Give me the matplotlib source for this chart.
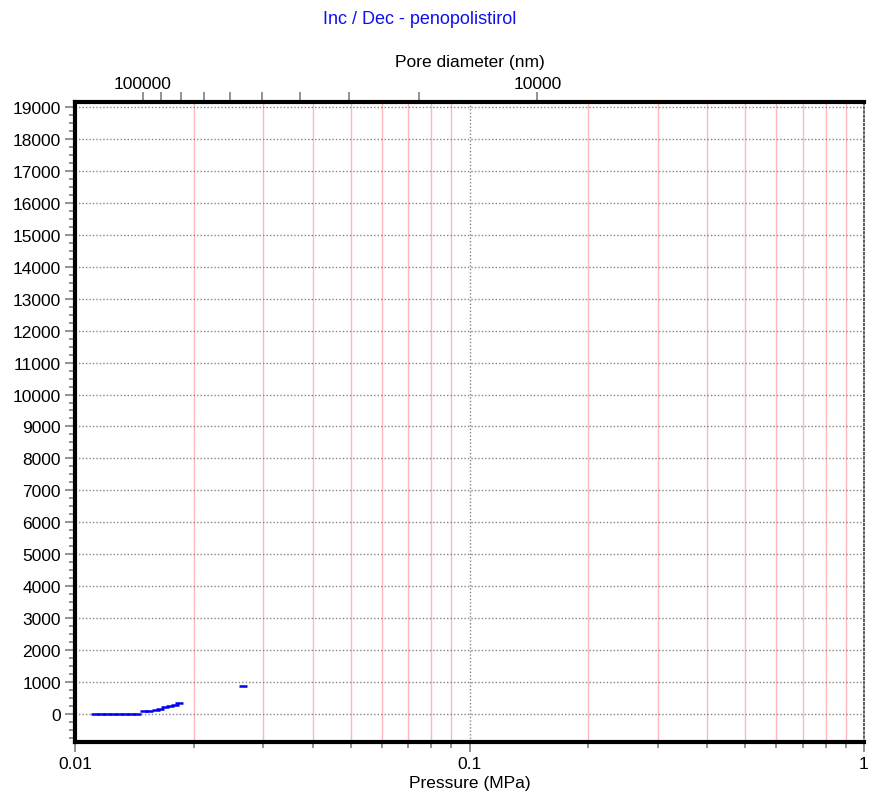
import matplotlib
matplotlib.use("Agg")
import matplotlib.pyplot as plt
from matplotlib.ticker import FixedLocator, NullFormatter, FuncFormatter

plt.rcParams['font.family'] = ['Liberation Sans', 'DejaVu Sans']

# intrusion run: pressure (MPa) and cumulative volume
pressure = [0.01124, 0.01164, 0.01205, 0.01248, 0.01293, 0.01339, 0.01387,
            0.01436, 0.01496, 0.01540, 0.01604, 0.01643, 0.01691, 0.01741,
            0.01793, 0.01835, 0.02667]
volume = [0, 0, 0, 0, 0, 0, 0, 0, 100, 100, 110, 160, 230, 240, 290, 330, 885]

y_ticks = list(range(0, 19001, 1000))
x_major = [0.01, 0.1, 1]
x_minor = [0.02, 0.03, 0.04, 0.05, 0.06, 0.07, 0.08, 0.09,
           0.2, 0.3, 0.4, 0.5, 0.6, 0.7, 0.8, 0.9]
pore_major = [100000, 10000]
pore_minor = [90000, 80000, 70000, 60000, 50000, 40000, 30000, 20000]

# Washburn constant, nm * MPa
WASHBURN = 1486.0

fig = plt.figure(figsize=(8.69, 8.04), dpi=100)
ax = fig.add_axes([75 / 869, 1 - 743 / 804, 789 / 869, 640 / 804])

ax.set_xscale('log')
ax.set_xlim(0.01, 1)
ax.set_ylim(-876, 19156)

for x in x_minor:
    ax.axvline(x, color='#ffb8b8', lw=1.0, zorder=0)
ax.axvline(0.1, color='#858585', lw=1.0, ls=(0, (1, 1.5)), zorder=0)
for y in y_ticks:
    ax.axhline(y, color='#858585', lw=1.0, ls=(0, (1, 1.5)), zorder=0)

ax.plot(pressure, volume, ls='none', marker='_', ms=6, mew=1.8,
        color='#0000ee', zorder=3)

ax.xaxis.set_major_locator(FixedLocator(x_major))
ax.xaxis.set_minor_locator(FixedLocator(x_minor))
ax.xaxis.set_major_formatter(FuncFormatter(lambda v, p: '%g' % v))
ax.xaxis.set_minor_formatter(NullFormatter())
ax.yaxis.set_major_locator(FixedLocator(y_ticks))
ax.yaxis.set_minor_locator(FixedLocator(range(-750, 19001, 250)))

ax.tick_params(axis='both', which='major', direction='out', length=7,
               width=1.2, color='#808080', labelsize=12.5, pad=3)
ax.tick_params(axis='both', which='minor', direction='out', length=4,
               width=1.2, color='#808080')

for side in ('left', 'bottom', 'top'):
    ax.spines[side].set_linewidth(3)
    ax.spines[side].set_color('black')
ax.spines['right'].set_linewidth(1.2)
ax.spines['right'].set_linestyle((0, (1, 1.5)))
ax.spines['right'].set_color('#404040')

ax.set_xlabel('Pressure (MPa)', fontsize=12.5, labelpad=3)

sec = ax.secondary_xaxis('top', functions=(lambda p: WASHBURN / p,
                                           lambda d: WASHBURN / d))
sec.xaxis.set_major_locator(FixedLocator(pore_major))
sec.xaxis.set_minor_locator(FixedLocator(pore_minor))
sec.xaxis.set_major_formatter(FuncFormatter(lambda v, p: '%d' % round(v)))
sec.xaxis.set_minor_formatter(NullFormatter())
sec.tick_params(which='major', direction='out', length=7, width=1.2,
                color='#808080', labelsize=12.5, pad=1)
sec.tick_params(which='minor', direction='out', length=7, width=1.2,
                color='#808080')
sec.spines['top'].set_visible(False)
sec.set_xlabel('Pore diameter (nm)', fontsize=12.5, labelpad=7)

fig.text(420 / 869, 1 - 20 / 804, 'Inc / Dec - penopolistirol', color='#1010ee',
         fontsize=13, ha='center', va='center')

fig.savefig('out.png', dpi=100)
